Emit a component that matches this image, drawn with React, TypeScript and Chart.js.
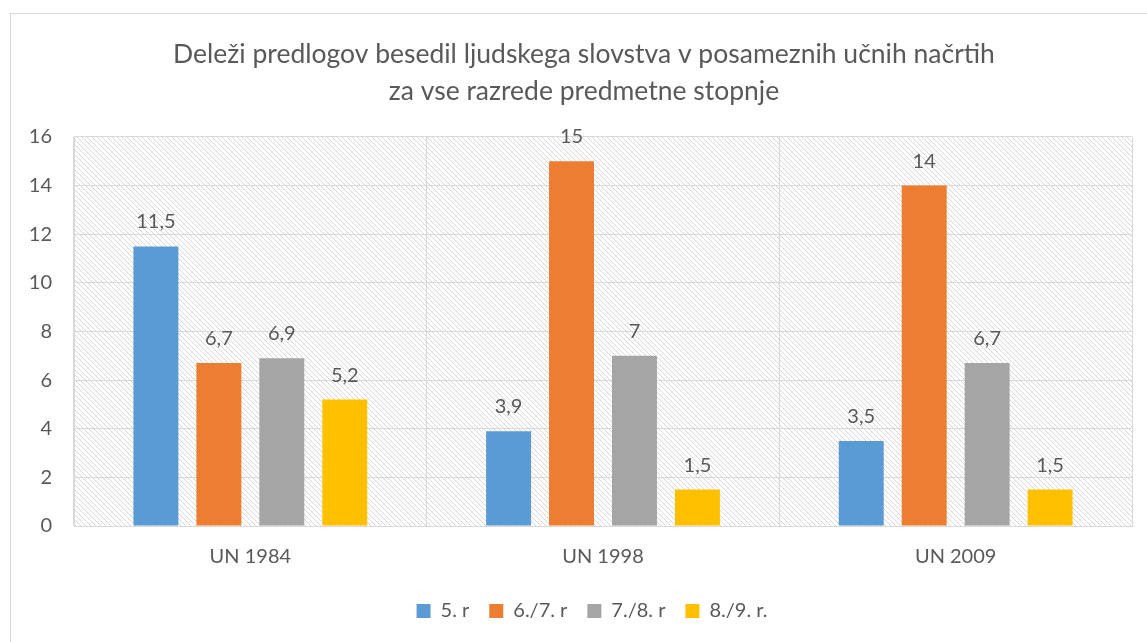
import React, { useEffect, useRef } from "react";
import { Chart, registerables } from "chart.js";

Chart.register(...registerables);

const categories = ["UN 1984", "UN 1998", "UN 2009"];
const seriesNames = ["5. r", "6./7. r", "7./8. r", "8./9. r."];
const series5 = [11.5, 3.9, 3.5];
const series67 = [6.7, 15, 14];
const series78 = [6.9, 7, 6.7];
const series89 = [5.2, 1.5, 1.5];
const seriesColors = ["#5B9BD5", "#ED7D31", "#A5A5A5", "#FFC000"];
const titleLines = [
  "Deleži predlogov besedil ljudskega slovstva v posameznih učnih načrtih",
  "za vse razrede predmetne stopnje",
];

const FONT = "Lato, 'Open Sans', sans-serif";
const TEXT = "#595959";

function makePattern(): CanvasPattern | string {
  const c = document.createElement("canvas");
  const s = 5;
  c.width = s;
  c.height = s;
  const g = c.getContext("2d");
  if (!g) return "#fff";
  g.fillStyle = "#ffffff";
  g.fillRect(0, 0, s, s);
  g.strokeStyle = "#d6d6d6";
  g.lineWidth = 1;
  g.beginPath();
  g.moveTo(-1, -1);
  g.lineTo(s + 1, s + 1);
  g.moveTo(-s - 1, -1);
  g.lineTo(1, s + 1);
  g.moveTo(s - 1, -1);
  g.lineTo(2 * s + 1, s + 1);
  g.stroke();
  const p = g.createPattern(c, "repeat");
  return p || "#fff";
}

const bgPlugin = {
  id: "bgPlugin",
  afterLayout(chart: any) {
    const l = chart.legend;
    if (l) {
      const w = l.right - l.left;
      l.left = 36;
      l.right = 36 + w;
    }
    const t = chart.titleBlock;
    if (t) {
      t.left += 16;
    }
  },
  beforeDraw(chart: any) {
    const { ctx, chartArea } = chart;
    ctx.save();
    ctx.fillStyle = "#ffffff";
    ctx.fillRect(0, 0, chart.width, chart.height);
    ctx.strokeStyle = "#d9d9d9";
    ctx.lineWidth = 1;
    ctx.strokeRect(10.5, 13.5, chart.width + 20, chart.height + 20);
    ctx.fillStyle = makePattern();
    ctx.fillRect(
      chartArea.left,
      chartArea.top,
      chartArea.right - chartArea.left,
      chartArea.bottom - chartArea.top
    );
    ctx.restore();
  },
};

const labelPlugin = {
  id: "labelPlugin",
  afterDatasetsDraw(chart: any) {
    const { ctx } = chart;
    ctx.save();
    ctx.font = `20px ${FONT}`;
    ctx.fillStyle = TEXT;
    ctx.textAlign = "center";
    ctx.textBaseline = "alphabetic";
    chart.data.datasets.forEach((ds: any, i: number) => {
      const meta = chart.getDatasetMeta(i);
      meta.data.forEach((bar: any, j: number) => {
        const v = ds.data[j];
        const txt = String(v).replace(".", ",");
        ctx.fillText(txt, bar.x, bar.y - 18);
      });
    });
    ctx.restore();
  },
};

export default function App() {
  const ref = useRef<HTMLCanvasElement>(null);
  useEffect(() => {
    if (!ref.current) return;
    const data = [series5, series67, series78, series89];
    const chart = new Chart(ref.current, {
      type: "bar",
      data: {
        labels: categories,
        datasets: seriesNames.map((n, i) => ({
          label: n,
          data: data[i],
          backgroundColor: seriesColors[i],
          borderWidth: 0,
          categoryPercentage: 0.714,
          barPercentage: 0.714,
        })),
      },
      plugins: [bgPlugin, labelPlugin],
      options: {
        responsive: false,
        animation: false,
        devicePixelRatio: 1,
        layout: { padding: { left: 20, right: 15, top: 0, bottom: 11 } },
        plugins: {
          title: {
            display: true,
            text: titleLines,
            color: TEXT,
            font: { family: FONT, size: 26.5, weight: "normal", lineHeight: 1.396 },
            padding: { top: 36, bottom: 27 },
          },
          legend: {
            display: true,
            position: "bottom",
            labels: {
              color: TEXT,
              font: { family: FONT, size: 20 },
              boxWidth: 14,
              boxHeight: 14,
              padding: 20,
            },
          },
          tooltip: { enabled: false },
        },
        scales: {
          x: {
            grid: { color: "#d9d9d9", drawTicks: false, offset: true },
            border: { color: "#d9d9d9" },
            ticks: { color: TEXT, font: { family: FONT, size: 20 }, padding: 19 },
            afterFit: (s: any) => {
              s.height = 55;
            },
          },
          y: {
            min: 0,
            max: 16,
            grid: { color: "#d9d9d9", drawTicks: false },
            border: { color: "#d9d9d9" },
            ticks: {
              stepSize: 2,
              color: TEXT,
              font: { family: FONT, size: 20 },
              padding: 22,
            },
            afterFit: (s: any) => {
              s.width = 54;
            },
          },
        },
      },
    } as any);
    return () => chart.destroy();
  }, []);
  return (
    <canvas
      ref={ref}
      width={1147}
      height={642}
      style={{ position: "fixed", left: 0, top: 0, width: 1147, height: 642 }}
    />
  );
}
